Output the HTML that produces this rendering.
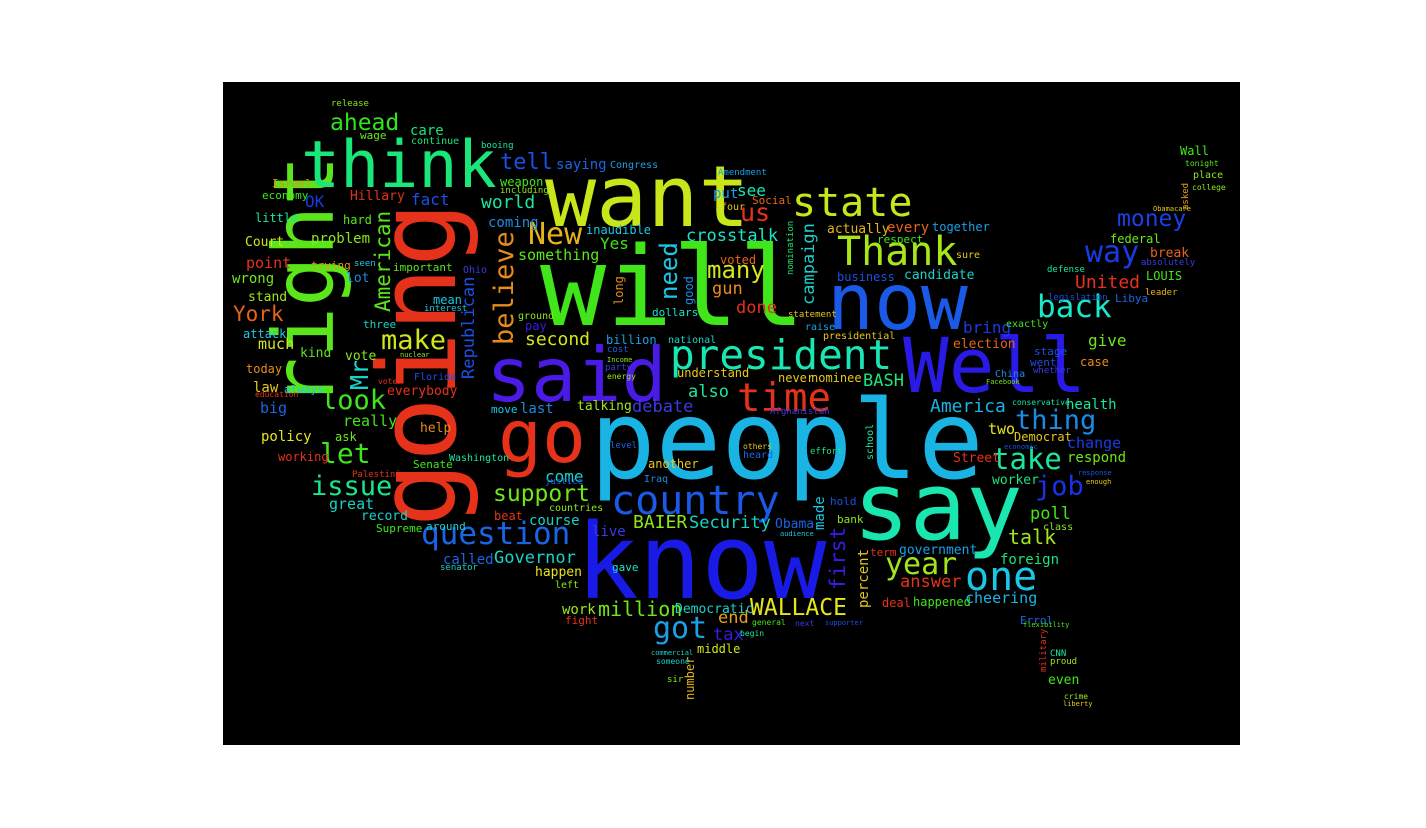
<!DOCTYPE html>
<html><head><meta charset="utf-8">
<style>
html,body{margin:0;padding:0;background:#fff;}
#stage{position:relative;width:1426px;height:828px;background:#fff;overflow:hidden;}
#cloud{position:absolute;left:223px;top:82px;width:1017px;height:663px;background:#000;}
.w{position:absolute;white-space:nowrap;line-height:1;font-family:"DejaVu Sans Mono","Liberation Mono",monospace;}
.v{transform-origin:0 0;transform:rotate(-90deg);}
</style></head>
<body>
<div id="stage">
<div id="cloud"></div>
</div>
<script>
// word | font size | colour | x | y | rotated(1)
const entries = [
"people|109|#1ab4e4|590|386|0",
"will|110|#40e61a|540|232|0",
"know|104|#1a1ae6|576|510|0",
"say|94|#1ae6b0|853|461|0",
"going|108|#e6321a|365|527|1",
"right|84|#5ae61a|262|408|1",
"want|85|#c8e61a|545|155|0",
"think|65|#1ae67a|301|133|0",
"now|78|#1a5ae6|827|264|0",
"Well|76|#2a1ae6|903|328|0",
"said|75|#4a1ae6|486|338|0",
"president|41|#1ae6b4|670|335|0",
"state|40|#c8e61a|792|183|0",
"Thank|40|#a8e61a|837|232|0",
"go|73|#e6321a|498|401|0",
"country|40|#1a5ae6|611|481|0",
"question|31|#1a64e6|421|519|0",
"one|40|#1ac8e6|965|557|0",
"year|30|#a0e61a|885|550|0",
"back|31|#1ae6c8|1037|292|0",
"way|30|#1a3ae6|1085|238|0",
"money|23|#1a40e6|1117|208|0",
"time|39|#e6321a|737|379|0",
"make|27|#d2e61a|381|327|0",
"look|27|#3ee61a|321|387|0",
"let|28|#3ee61a|320|440|0",
"issue|27|#1ae68c|311|473|0",
"got|30|#1aa0e6|653|614|0",
"WALLACE|23|#e6e61a|750|597|0",
"support|23|#6ee61a|493|483|0",
"thing|27|#1a8ce6|1015|407|0",
"take|29|#1ae6a0|992|445|0",
"job|27|#1a32e6|1035|473|0",
"tell|22|#1a50e6|500|152|0",
"ahead|23|#2ee61a|330|112|0",
"New|30|#e6b41a|528|220|0",
"need|24|#1ac8e6|657|300|1",
"crosstalk|17|#1ae6c8|686|228|0",
"us|25|#e6321a|740|200|0",
"many|24|#d2e61a|707|258|0",
"believe|27|#e68c1a|491|345|1",
"American|21|#5ae61a|373|312|1",
"Republican|17|#1a50e6|461|379|1",
"Mr|25|#1ad2c8|347|390|1",
"campaign|17|#1ad2c8|801|305|1",
"first|21|#3a1ae6|828|590|1",
"percent|14|#e6c81a|857|608|1",
"made|14|#1ac8e6|813|530|1",
"number|12|#e6b41a|684|700|1",
"good|12|#1a8ce6|683|305|1",
"long|12|#e68c1a|613|305|1",
"school|10|#1ae6a0|866|460|1",
"asked|9|#e6a01a|1182|210|1",
"military|9|#e6321a|1040|672|1",
"nomination|9|#1ae66e|787|275|1",
"Yes|16|#40e61a|600|236|0",
"something|15|#5ae61a|518|248|0",
"second|18|#d2e61a|525|331|0",
"billion|12|#1aa0e6|606|334|0",
"lot|13|#1a8ce6|346|272|0",
"problem|14|#8ce61a|311|232|0",
"Court|13|#d2e61a|245|236|0",
"point|15|#e6321a|246|256|0",
"York|21|#e6641a|233|304|0",
"OK|16|#1a3ae6|305|194|0",
"Hillary|13|#e6321a|350|190|0",
"fact|16|#1a50e6|411|192|0",
"world|18|#1ae6a0|481|194|0",
"care|14|#1ae67a|410|124|0",
"continue|10|#1ae67a|411|137|0",
"wage|11|#6ee61a|360|130|0",
"release|9|#8ce61a|331|100|0",
"Congress|10|#1aa0e6|610|161|0",
"saying|14|#1a64e6|556|158|0",
"weapon|12|#40e61a|500|176|0",
"inaudible|12|#1ac8e6|586|224|0",
"little|12|#1ae6a0|255|212|0",
"economy|11|#3ee61a|262|190|0",
"Israel|11|#e68c1a|272|178|0",
"wrong|14|#6ee61a|232|272|0",
"stand|13|#a0e61a|248|291|0",
"trying|11|#e69a1a|311|260|0",
"important|11|#5ae61a|393|262|0",
"mean|12|#1ac8e6|433|294|0",
"three|11|#1ad2c8|363|319|0",
"attack|12|#1ac8e6|243|328|0",
"much|15|#d2e61a|258|337|0",
"kind|13|#5ae61a|300|347|0",
"vote|13|#8ce61a|345|350|0",
"today|12|#e68c1a|246|363|0",
"law|14|#e6c81a|253|381|0",
"always|11|#1ac8e6|284|384|0",
"everybody|13|#e6321a|387|385|0",
"big|15|#1a64e6|260|401|0",
"dollars|11|#1ae6c8|652|307|0",
"talking|13|#a0e61a|577|400|0",
"last|14|#1a8ce6|520|402|0",
"move|11|#1ac8e6|491|404|0",
"debate|17|#3a3ae6|632|399|0",
"also|17|#1ae6a0|688|384|0",
"understand|12|#e6c81a|677|367|0",
"national|10|#1ad2c8|668|336|0",
"see|16|#1ae6b4|737|183|0",
"Social|11|#e6641a|752|195|0",
"actually|13|#e6b41a|827|223|0",
"every|14|#e6641a|887|221|0",
"together|12|#1aa0e6|932|221|0",
"respect|11|#40e61a|877|234|0",
"business|12|#1a50e6|837|271|0",
"candidate|13|#1ad2c8|904|269|0",
"bring|16|#1a3ae6|963|320|0",
"election|13|#e6641a|953|338|0",
"give|16|#6ee61a|1088|333|0",
"stage|11|#1a50e6|1034|346|0",
"went|11|#1a50e6|1030|357|0",
"case|12|#e68c1a|1080|356|0",
"health|14|#1ae6a0|1066|398|0",
"America|18|#1ab4e4|930|398|0",
"BASH|17|#1ae67a|863|373|0",
"nominee|12|#e6c81a|811|372|0",
"never|12|#e6c81a|778|372|0",
"statement|9|#e6c81a|788|311|0",
"done|17|#e6321a|736|300|0",
"gun|17|#e68c1a|712|281|0",
"federal|12|#6ee61a|1110|233|0",
"break|13|#e6641a|1150|247|0",
"LOUIS|12|#40e61a|1146|270|0",
"United|18|#e6321a|1075|274|0",
"Libya|11|#1a64e6|1115|293|0",
"legislation|9|#1a50e6|1048|294|0",
"Wall|12|#40e61a|1180|145|0",
"tonight|8|#5ae61a|1185|160|0",
"place|10|#8ce61a|1193|171|0",
"college|8|#8ce61a|1192|184|0",
"come|16|#1ad2c8|545|469|0",
"policy|14|#e6e61a|261|430|0",
"really|15|#40e61a|343|414|0",
"ask|12|#6ee61a|335|431|0",
"working|12|#e6321a|278|451|0",
"great|15|#1ad2c8|329|497|0",
"record|13|#1ad2c8|361|510|0",
"Supreme|11|#40e61a|376|523|0",
"help|13|#e68c1a|420|422|0",
"Senate|11|#40e61a|413|459|0",
"Washington|10|#1ae6a0|449|454|0",
"BAIER|18|#8ce61a|633|514|0",
"Security|17|#1ad2c8|689|515|0",
"million|20|#6ee61a|598|599|0",
"work|14|#a0e61a|562|603|0",
"fight|11|#e6321a|565|615|0",
"Democratic|13|#1ad2c8|675|603|0",
"called|14|#1a64e6|443|553|0",
"Governor|17|#1ad2c8|494|550|0",
"happen|13|#e6e61a|535|566|0",
"senator|9|#1ad2c8|440|564|0",
"tax|17|#3a1ae6|713|627|0",
"end|17|#e6a01a|718|610|0",
"middle|12|#d2e61a|697|643|0",
"around|11|#1ad2c8|426|521|0",
"beat|12|#e6321a|494|510|0",
"course|14|#1ad2c8|529|514|0",
"live|14|#3a3ae6|592|525|0",
"gave|11|#1ae6c8|612|562|0",
"another|12|#e6c81a|648|458|0",
"left|10|#8ce61a|555|581|0",
"two|15|#e6e61a|988|422|0",
"Democrat|12|#e6c81a|1014|431|0",
"change|15|#1a3ae6|1067|436|0",
"respond|14|#6ee61a|1067|451|0",
"Street|13|#e6321a|953|452|0",
"worker|13|#1ae67a|992|474|0",
"poll|17|#40e61a|1030|506|0",
"class|10|#8ce61a|1043|523|0",
"talk|20|#a0e61a|1008|527|0",
"foreign|14|#1ae67a|1000|553|0",
"government|13|#1aa0e6|899|544|0",
"term|11|#e6321a|870|547|0",
"hold|11|#1a50e6|830|496|0",
"bank|11|#8ce61a|837|514|0",
"Obama|13|#1a64e6|775|518|0",
"answer|17|#e6321a|900|574|0",
"deal|12|#e6321a|882|597|0",
"happened|12|#40e61a|913|596|0",
"cheering|15|#1ab4e4|965|591|0",
"Errol|11|#1a64e6|1020|615|0",
"CNN|9|#1ae6a0|1050|650|0",
"proud|9|#a0e61a|1050|658|0",
"even|13|#40e61a|1048|674|0",
"crime|8|#a0e61a|1064|693|0",
"liberty|7|#e6c81a|1063|701|0",
"sir|9|#8ce61a|667|676|0",
"someone|8|#1ad2c8|656|658|0",
"commercial|7|#1ad2c8|651|650|0",
"Florida|10|#1a50e6|414|373|0",
"Ohio|10|#3a3ae6|463|266|0",
"interest|9|#1ac8e6|424|305|0",
"booing|9|#1ae6a0|481|142|0",
"including|9|#8ce61a|500|187|0",
"coming|14|#1a8ce6|488|216|0",
"hard|12|#5ae61a|343|214|0",
"seen|9|#1ac8e6|354|260|0",
"party|9|#3a3ae6|605|364|0",
"energy|8|#a0e61a|607|373|0",
"cost|9|#1a64e6|607|346|0",
"Income|7|#8ce61a|607|357|0",
"Afghanistan|9|#3a3ae6|770|408|0",
"presidential|10|#e6c81a|823|332|0",
"raise|10|#1aa0e6|805|323|0",
"defense|9|#1ae6a0|1047|266|0",
"sure|10|#e6c81a|956|251|0",
"pay|12|#3a1ae6|525|320|0",
"ground|10|#8ce61a|518|312|0",
"Amendment|9|#1aa0e6|718|169|0",
"put|14|#1aa0e6|713|187|0",
"four|10|#e6c81a|721|203|0",
"voted|12|#e6641a|720|254|0",
"economic|7|#1a50e6|1004|444|0",
"response|7|#1a50e6|1078|470|0",
"enough|7|#e6c81a|1086|479|0",
"Obamacare|7|#e6c81a|1153|206|0",
"absolutely|9|#3a3ae6|1141|259|0",
"leader|9|#e6b41a|1145|289|0",
"whether|9|#3a3ae6|1033|367|0",
"conservative|8|#1ae6a0|1012|399|0",
"exactly|10|#40e61a|1006|320|0",
"China|10|#1a8ce6|995|370|0",
"Facebook|7|#6ee61a|986|379|0",
"nuclear|7|#8ce61a|400|352|0",
"voter|8|#e6321a|378|378|0",
"education|8|#e6321a|255|391|0",
"Palestinian|9|#e6321a|352|471|0",
"justice|9|#1a64e6|545|478|0",
"countries|10|#8ce61a|549|504|0",
"Iraq|10|#1a8ce6|644|475|0",
"level|9|#1a64e6|610|442|0",
"heard|10|#1a64e6|743|451|0",
"others|8|#e6c81a|743|443|0",
"effort|9|#1ae67a|810|448|0",
"audience|7|#1ac8e6|780|531|0",
"supporter|7|#1a50e6|825|620|0",
"general|8|#40e61a|752|619|0",
"begin|8|#1ae6a0|740|630|0",
"next|8|#3a3ae6|795|620|0",
"flexibility|7|#40e61a|1023|622|0"
];
const cloud = document.getElementById('cloud');
entries.forEach(function(e){
  const p = e.split('|');
  const s = document.createElement('span');
  s.textContent = p[0];
  s.className = 'w' + (p[5] === '1' ? ' v' : '');
  s.style.fontSize = p[1] + 'px';
  s.style.color = p[2];
  s.style.left = (Number(p[3]) - 223) + 'px';
  s.style.top = (Number(p[4]) - 82) + 'px';
  
  
  cloud.appendChild(s);
});
</script>
</body></html>
